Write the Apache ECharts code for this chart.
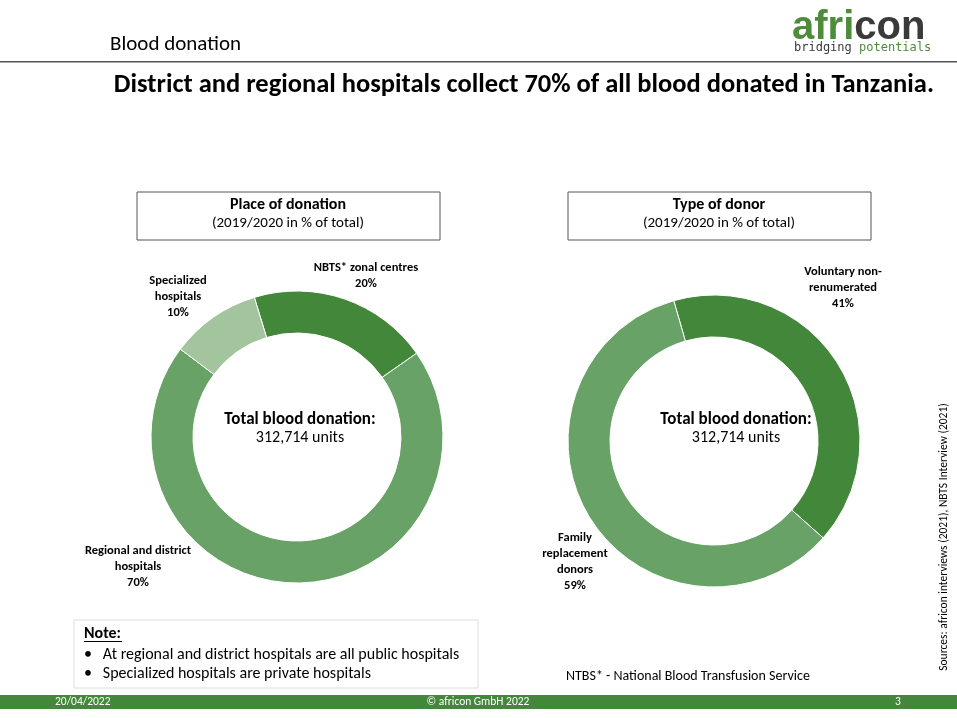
<!DOCTYPE html>
<html><head><meta charset="utf-8">
<script src="https://cdn.jsdelivr.net/npm/echarts@6/dist/echarts.min.js"></script>
<style>html,body{margin:0;padding:0;background:#fff}#c{width:957px;height:718px}</style>
</head><body><div id="c"></div>
<script>
const placeNames = ['NBTS* zonal centres','Regional and district hospitals','Specialized hospitals'];
const placeValues = [20,70,10];
const donorNames = ['Voluntary non-renumerated','Family replacement donors'];
const donorValues = [41,59];
const placeColors = ['#43883a','#68a266','#a3c59d'];
const donorColors = ['#43883a','#68a266'];
const F = 'Carlito, Calibri, "Open Sans", sans-serif';
const chart = echarts.init(document.getElementById('c'));
function ctxt(x,y,t,size,bold){return {type:'text',x:x,y:y,style:{text:t,fill:'#000',font:(bold?'bold ':'')+size+'px '+F,textAlign:'center',textVerticalAlign:'top'}};}
function lbl(x,y,t){return {type:'text',x:x,y:y,style:{text:t,font:'bold 12.5px '+F,fill:'#000',textAlign:'center',lineHeight:16}};}
chart.setOption({
  animation:false,
  series:[
    {type:'pie',center:[297,437],radius:[104,146],startAngle:107,clockwise:true,label:{show:false},labelLine:{show:false},
     itemStyle:{borderColor:'#fff',borderWidth:1},
     data:placeNames.map((n,i)=>({name:n,value:placeValues[i],itemStyle:{color:placeColors[i]}}))},
    {type:'pie',center:[714,441],radius:[104,146],startAngle:106,clockwise:true,label:{show:false},labelLine:{show:false},
     itemStyle:{borderColor:'#fff',borderWidth:1},
     data:donorNames.map((n,i)=>({name:n,value:donorValues[i],itemStyle:{color:donorColors[i]}}))}
  ],
  graphic:[
    {type:'text',x:110,y:34,style:{text:'Blood donation',font:'21px '+F,fill:'#000'}},
    {type:'text',x:792,y:8,style:{rich:{a:{font:'bold 40px Arial, sans-serif',fill:'#4c8c3a'},c:{font:'bold 40px Arial, sans-serif',fill:'#3a3a3a'}},text:'{a|afri}{c|con}'}},
    {type:'text',x:794,y:42,style:{rich:{a:{font:'12px "DejaVu Sans Mono", monospace',fill:'#3a3a3a'},b:{font:'12px "DejaVu Sans Mono", monospace',fill:'#4c8c3a'}},text:'{a|bridging }{b|potentials}'}},
    {type:'rect',shape:{x:0,y:61,width:957,height:1.5},style:{fill:'#555'}},
    {type:'text',x:934,y:72,style:{text:'District and regional hospitals collect 70% of all blood donated in Tanzania.',font:'bold 26.5px '+F,fill:'#000',textAlign:'right'}},
    {type:'rect',shape:{x:137,y:192,width:303,height:48},style:{fill:'#fff',stroke:'#555',lineWidth:1}},
    ctxt(288,197,'Place of donation',16,true),ctxt(288,216,'(2019/2020 in % of total)',15,false),
    {type:'rect',shape:{x:568,y:192,width:303,height:48},style:{fill:'#fff',stroke:'#555',lineWidth:1}},
    ctxt(719,197,'Type of donor',16,true),ctxt(719,216,'(2019/2020 in % of total)',15,false),
    ctxt(300,411,'Total blood donation:',17,true),ctxt(300,430,'312,714 units',16,false),
    ctxt(736,411,'Total blood donation:',17,true),ctxt(736,430,'312,714 units',16,false),
    lbl(366,260,'NBTS* zonal centres\n20%'),
    lbl(178,273,'Specialized\nhospitals\n10%'),
    lbl(138,543,'Regional and district\nhospitals\n70%'),
    lbl(843,264,'Voluntary non-\nrenumerated\n41%'),
    lbl(575,530,'Family\nreplacement\ndonors\n59%'),
    {type:'rect',shape:{x:74,y:620,width:404,height:68},style:{fill:'#fff',stroke:'#ddd',lineWidth:1}},
    {type:'text',x:84,y:626,style:{text:'Note:',font:'bold 16px '+F,fill:'#000'}},
    {type:'rect',shape:{x:84,y:641,width:38,height:1},style:{fill:'#000'}},
    {type:'text',x:84,y:645,style:{text:'•   At regional and district hospitals are all public hospitals\n•   Specialized hospitals are private hospitals',font:'16px '+F,fill:'#000',lineHeight:19}},
    {type:'text',x:566,y:669,style:{text:'NTBS* - National Blood Transfusion Service',font:'14px '+F,fill:'#000'}},
    {type:'text',x:944,y:537,rotation:Math.PI/2,style:{text:'Sources: africon interviews (2021), NBTS Interview (2021)',font:'11.5px '+F,fill:'#000',textAlign:'center',textVerticalAlign:'middle'}},
    {type:'rect',shape:{x:0,y:695,width:957,height:14},style:{fill:'#43883a'}},
    {type:'text',x:55,y:696,style:{text:'20/04/2022',font:'11.5px '+F,fill:'#fff'}},
    {type:'text',x:478,y:696,style:{text:'© africon GmbH 2022',font:'11.5px '+F,fill:'#fff',textAlign:'center'}},
    {type:'text',x:895,y:696,style:{text:'3',font:'11.5px '+F,fill:'#fff'}}
  ]
});
</script></body></html>
